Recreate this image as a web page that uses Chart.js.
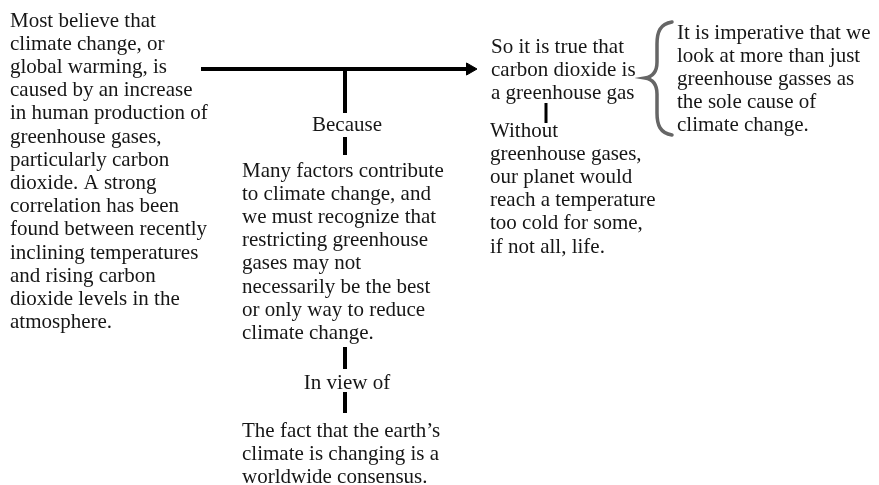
<!DOCTYPE html>
<html>
<head>
<meta charset="utf-8">
<script src="https://cdn.jsdelivr.net/npm/chart.js@4.4.1/dist/chart.umd.min.js"></script>
<style>
  html, body { margin: 0; padding: 0; background: #fff; }
  #wrap { width: 879px; height: 485px; }
</style>
</head>
<body>
<div id="wrap"><canvas id="argChart" width="879" height="485"></canvas></div>
<script>
    // Argument text (one entry per printed line)
    const claimLines = ['Most believe that', 'climate change, or', 'global warming, is', 'caused by an increase',
      'in human production of', 'greenhouse gases,', 'particularly carbon', 'dioxide. A strong',
      'correlation has been', 'found between recently', 'inclining temperatures', 'and rising carbon',
      'dioxide levels in the', 'atmosphere.'];
    const reasonLines = ['Many factors contribute', 'to climate change, and', 'we must recognize that',
      'restricting greenhouse', 'gases may not', 'necessarily be the best', 'or only way to reduce', 'climate change.'];
    const groundLines = ['The fact that the earth\u2019s', 'climate is changing is a', 'worldwide consensus.'];
    const concessionLines = ['So it is true that', 'carbon dioxide is', 'a greenhouse gas'];
    const backingLines = ['Without', 'greenhouse gases,', 'our planet would', 'reach a temperature',
      'too cold for some,', 'if not all, life.'];
    const conclusionLines = ['It is imperative that we', 'look at more than just', 'greenhouse gasses as',
      'the sole cause of', 'climate change.'];
    const connectorWords = ['Because', 'In view of'];

    // Connector segments [x1, y1, x2, y2] in diagram units
    const mainArrow = [201, 69, 468, 69];
    const stems = [
      [345, 69, 345, 113],
      [345, 137, 345, 155],
      [345, 347, 345, 369],
      [345, 392, 345, 413],
      [546, 103, 546, 123]
    ];
    // brace: [endX, midX, tipX, top, tip, bottom]
    const brace = [672, 657, 645, 22, 78, 135];

    // Layout (where each block sits)
    const FONT = '21px "Liberation Serif", "Times New Roman", serif';
    const LINE_H = 23.2;
    const blocks = [
      { lines: claimLines, x: 10, y: 21, align: 'left' },
      { lines: reasonLines, x: 242, y: 171, align: 'left' },
      { lines: groundLines, x: 242, y: 431, align: 'left' },
      { lines: concessionLines, x: 491, y: 47, align: 'left' },
      { lines: backingLines, x: 490, y: 131, align: 'left' },
      { lines: conclusionLines, x: 677, y: 33, align: 'left' },
      { lines: [connectorWords[0]], x: 347, y: 125, align: 'center' },
      { lines: [connectorWords[1]], x: 347, y: 383, align: 'center' }
    ];

    const segDataset = (s, w) => ({
      data: [{ x: s[0], y: s[1] }, { x: s[2], y: s[3] }],
      showLine: true,
      borderColor: '#000',
      borderWidth: w,
      borderCapStyle: 'butt',
      pointRadius: 0
    });

    const datasets = [segDataset(mainArrow, 4)];
    stems.forEach((s, i) => datasets.push(segDataset(s, i === 4 ? 3 : 4)));
    // arrow head
    datasets.push({
      data: [{ x: mainArrow[2] + 2, y: mainArrow[3] }],
      pointStyle: 'triangle',
      rotation: 90,
      pointRadius: 7,
      backgroundColor: '#000',
      borderColor: '#000',
      borderWidth: 1,
      showLine: false
    });

    // Text + brace plugin
    const textPlugin = {
      id: 'argText',
      afterDatasetsDraw(chart) {
        const { ctx, scales } = chart;
        const px = v => scales.x.getPixelForValue(v);
        const py = v => scales.y.getPixelForValue(v);

        ctx.save();
        ctx.fillStyle = '#161616';
        ctx.font = FONT;
        ctx.textBaseline = 'middle';
        blocks.forEach(b => {
          ctx.textAlign = b.align;
          b.lines.forEach((t, i) => ctx.fillText(t, px(b.x), py(b.y + i * LINE_H)));
        });

        // curly brace
        const [ex, mx, tx, top, tip, bot] = brace;
        ctx.strokeStyle = '#666';
        ctx.lineWidth = 3.5;
        ctx.lineCap = 'round';
        ctx.beginPath();
        ctx.moveTo(px(ex), py(top));
        ctx.bezierCurveTo(px(mx + 3), py(top + 2), px(mx), py(top + 10), px(mx), py(top + 22));
        ctx.lineTo(px(mx), py(tip - 16));
        ctx.bezierCurveTo(px(mx), py(tip - 5), px(tx + 6), py(tip - 1), px(tx), py(tip));
        ctx.bezierCurveTo(px(tx + 6), py(tip + 1), px(mx), py(tip + 5), px(mx), py(tip + 16));
        ctx.lineTo(px(mx), py(bot - 22));
        ctx.bezierCurveTo(px(mx), py(bot - 10), px(mx + 3), py(bot - 2), px(ex), py(bot));
        ctx.stroke();
        ctx.restore();
      }
    };

    new Chart(document.getElementById('argChart').getContext('2d'), {
      type: 'scatter',
      data: { datasets },
      options: {
        responsive: false,
        animation: false,
        layout: { padding: 0, autoPadding: false },
        plugins: { legend: { display: false }, tooltip: { enabled: false } },
        scales: {
          x: { type: 'linear', display: false, min: 0, max: 879 },
          y: { type: 'linear', display: false, min: 0, max: 485, reverse: true }
        }
      },
      plugins: [textPlugin]
    });
</script>
</body>
</html>
